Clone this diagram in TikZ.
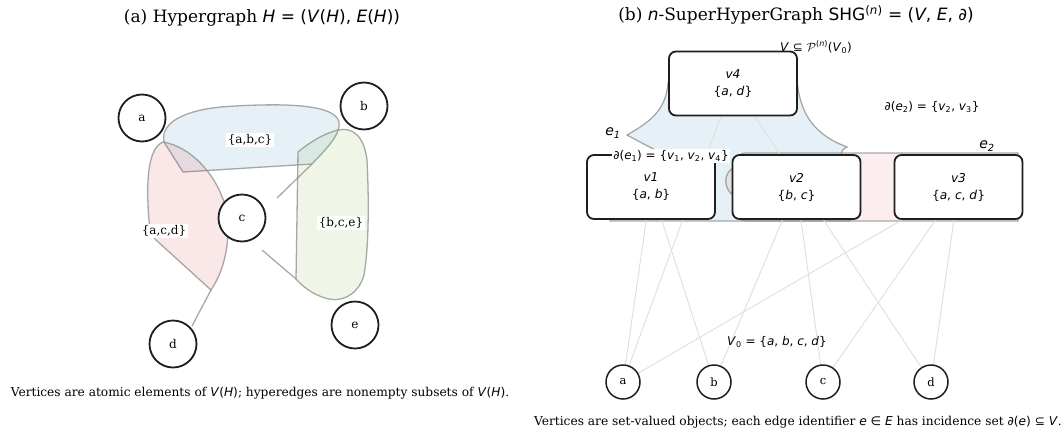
\documentclass[tikz,border=0pt]{standalone}
\usepackage{fontspec}
\setmainfont{DejaVu Serif}
\newfontfamily\mtfont{DejaVu Sans}
\newcommand\mi[1]{\textit{#1}}
\newcommand\sub[1]{\textsubscript{#1}}
\usetikzlibrary{positioning}
\definecolor{edgeblue}{RGB}{31,119,180}
\definecolor{edgered}{RGB}{214,39,40}
\definecolor{edgegreen}{RGB}{110,175,50}
\definecolor{hullline}{RGB}{140,140,140}
\definecolor{memline}{RGB}{222,222,222}
\definecolor{ink}{RGB}{30,30,30}
\pgfdeclarelayer{back}
\pgfdeclarelayer{mid}
\pgfsetlayers{back,mid,main}
\tikzset{
  title/.style={font=\fontsize{17}{19}\selectfont},
  caption/.style={font=\fontsize{12.2}{14}\selectfont},
  atom/.style={circle,draw=ink,line width=1.8pt,fill=white,minimum size=47pt,
    inner sep=0pt,font=\fontsize{12}{14}\selectfont},
  ratom/.style={atom,minimum size=34pt,line width=1.5pt,font=\fontsize{11.5}{13}\selectfont},
  setlab/.style={fill=white,inner sep=1.5pt,font=\fontsize{12}{14}\selectfont},
  hull/.style={draw=hullline,line width=1.3pt,draw opacity=0.75,fill opacity=0.11},
  hullseg/.style={draw=hullline,line width=1.3pt,draw opacity=0.75},
  member/.style={draw=memline,line width=0.9pt},
  supbox/.style={rectangle,rounded corners=7pt,draw=ink,line width=1.8pt,fill=white,
    minimum width=128pt,minimum height=64pt,align=center,
    font=\mtfont\fontsize{12.2}{17}\selectfont},
  mtlab/.style={font=\mtfont\fontsize{12}{14}\selectfont,inner sep=1pt},
  elab/.style={font=\mtfont\fontsize{14}{16}\selectfont\itshape,inner sep=0pt}
}
\begin{document}
\begin{tikzpicture}[x=1pt,y=-1pt]
\useasboundingbox (0,0) rectangle (1064,434);
% (a) hypergraph
\node[title] (ta) at (262,18) {(a) Hypergraph {\mtfont\mi{H} = (\mi{V}(\mi{H}), \mi{E}(\mi{H}))}};
\begin{pgfonlayer}{back}
  \path[hull,fill=edgeblue] (183,172) -- (164,142)
    .. controls (160,120) and (190,108) .. (235,106)
    .. controls (290,103) and (335,105) .. (339,122)
    .. controls (341,135) and (325,150) .. (312,164) -- cycle;
  \path[hull,fill=edgered] (163,142)
    .. controls (148,148) and (147,180) .. (148,205)
    .. controls (149,225) and (150,235) .. (156,240) -- (211,290)
    .. controls (226,268) and (232,235) .. (225,205)
    .. controls (216,175) and (192,147) .. (163,142) -- cycle;
  \path[hull,fill=edgegreen] (298,152)
    .. controls (310,142) and (325,133) .. (338,130)
    .. controls (352,127) and (364,135) .. (367,160)
    .. controls (369,200) and (369,245) .. (364,275)
    .. controls (358,296) and (340,303) .. (325,298)
    .. controls (312,294) and (302,286) .. (296,279) -- cycle;
\end{pgfonlayer}
\node[atom] (a) at (142,118) {a};
\node[atom] (b) at (364,106) {b};
\node[atom] (c) at (242,218) {c};
\node[atom] (d) at (173,344) {d};
\node[atom] (e) at (355,325) {e};
\coordinate (cb) at (277,198);
\coordinate (ce) at (262,250);
\coordinate (dd) at (192,326);
\draw[hullseg] (cb) -- (312,164);
\draw[hullseg] (ce) -- (296,279);
\draw[hullseg] (dd) -- (211,290);
\node[setlab] (abc) at (250,140) {\{a,b,c\}};
\node[setlab] (acd) at (164,231) {\{a,c,d\}};
\node[setlab] (bce) at (341,223) {\{b,c,e\}};
\node[caption] (ca) at (260,393) {Vertices are atomic elements of {\mtfont\mi{V}(\mi{H})}; hyperedges are nonempty subsets of {\mtfont\mi{V}(\mi{H})}.};
% (b) n-superhypergraph
\node[title] (tb) at (796,15) {(b) {\mtfont\mi{n}}-SuperHyperGraph {\mtfont SHG\textsuperscript{(\mi{n})} = (\mi{V}, \mi{E}, ∂)}};
\node[mtlab] (pv) at (816,47) {\mi{V} ⊆ $\mathcal{P}$\textsuperscript{(\mi{n})}(\mi{V}\sub{0})};
\node[supbox] (v4) at (733,83.5) {\mi{v4}\\\{\mi{a}, \mi{d}\}};
\node[supbox] (v1) at (651,187) {\mi{v1}\\\{\mi{a}, \mi{b}\}};
\node[supbox] (v2) at (796.5,187) {\mi{v2}\\\{\mi{b}, \mi{c}\}};
\node[supbox] (v3) at (958.5,187) {\mi{v3}\\\{\mi{a}, \mi{c}, \mi{d}\}};
\node[ratom] (ra) at (623,382) {a};
\node[ratom] (rb) at (714,382) {b};
\node[ratom] (rc) at (823,382) {c};
\node[ratom] (rd) at (931,382) {d};
\begin{pgfonlayer}{back}
  \path[hull,fill=edgeblue] (733,75) -- (668,83)
    .. controls (666,110) and (650,122) .. (627,135)
    .. controls (640,142) and (655,150) .. (667,156)
    -- (610,200) -- (610,221) -- (850,221) -- (850,160)
    .. controls (840,156) and (838,152) .. (847,147)
    .. controls (815,135) and (800,115) .. (797,80) -- cycle;
  \path[hull,fill=edgered,fill opacity=0.08] (745,153) -- (1018,153) -- (1018,221) -- (745,221)
    .. controls (735,221) and (738,200) .. (733,195)
    .. controls (723,188) and (723,172) .. (735,167)
    .. controls (740,160) and (738,153) .. (745,153) -- cycle;
\end{pgfonlayer}
\begin{pgfonlayer}{mid}
  \foreach \s/\t in {v1/ra,v1/rb,v2/rb,v2/rc,v3/ra,v3/rc,v3/rd,v4/ra,v4/rd}
    \draw[member] (\s.center) -- (\t.center);
\end{pgfonlayer}
\node[mtlab,fill=white] (pe1) at (671,156) {∂(\mi{e}\sub{1}) = \{\mi{v}\sub{1}, \mi{v}\sub{2}, \mi{v}\sub{4}\}};
\node[mtlab] (pe2) at (932,107) {∂(\mi{e}\sub{2}) = \{\mi{v}\sub{2}, \mi{v}\sub{3}\}};
\node[elab] (e1) at (613,133) {e\sub{1}};
\node[elab] (e2) at (987,146) {e\sub{2}};
\node[mtlab] (vz) at (777,342) {\mi{V}\sub{0} = \{\mi{a}, \mi{b}, \mi{c}, \mi{d}\}};
\node[caption] (cb) at (798,422) {Vertices are set-valued objects; each edge identifier {\mtfont\mi{e} ∈ \mi{E}} has incidence set {\mtfont ∂(\mi{e}) ⊆ \mi{V}}.};
\end{tikzpicture}
\end{document}
